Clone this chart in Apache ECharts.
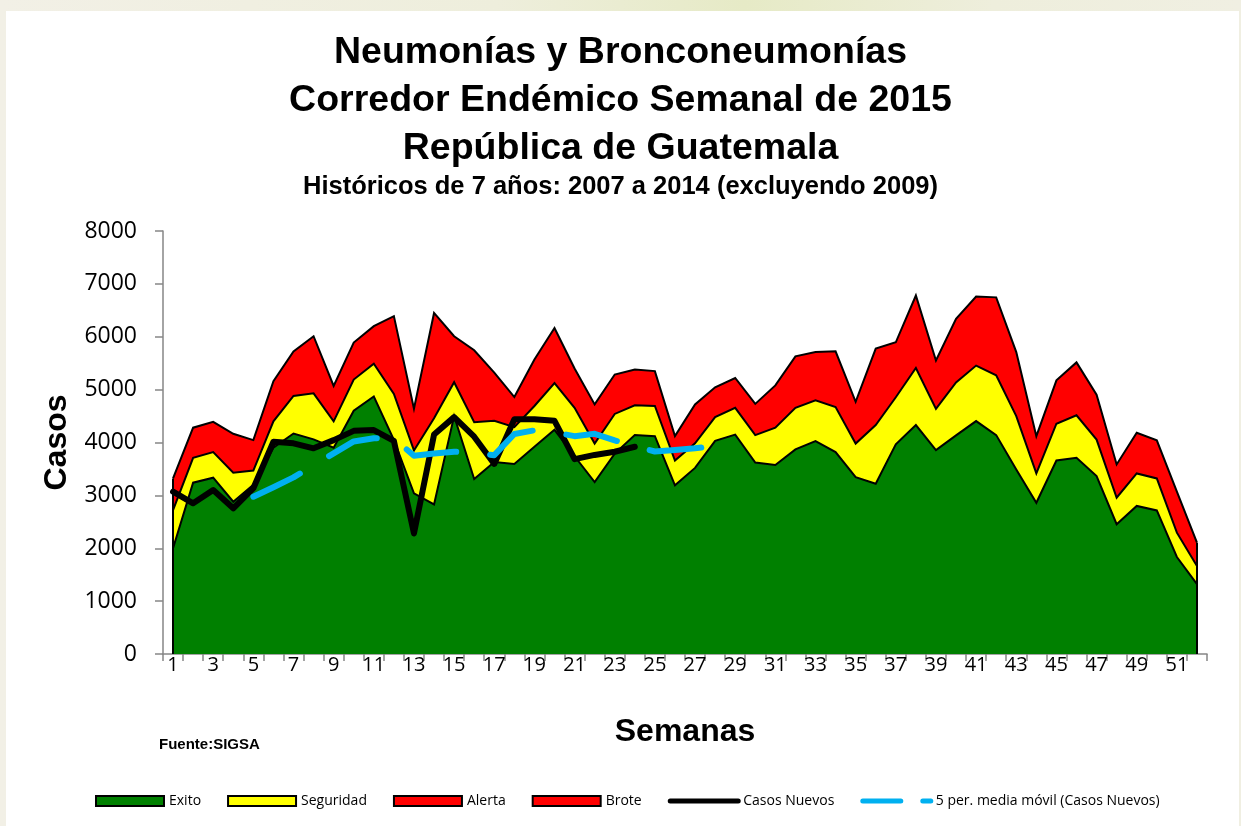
<!DOCTYPE html>
<html>
<head>
<meta charset="utf-8">
<script src="https://cdn.jsdelivr.net/npm/echarts@6/dist/echarts.min.js"></script>
<style>
  html, body { margin: 0; padding: 0; width: 1241px; height: 826px; overflow: hidden;
    background: linear-gradient(90deg, #f2f0e6 0%, #eeeedc 40%, #e6eac6 60%, #eeeedc 80%, #f0efe2 100%); }
  #bg { position: absolute; left: 6px; top: 11px; width: 1233px; height: 815px; background: #fff; }
  #chart { position: absolute; left: 0; top: 0; width: 1241px; height: 826px; }
</style>
</head>
<body>
<div id="bg"></div>
<div id="chart"></div>
<script>
// ---- Data ----
const weeks = ['1','2','3','4','5','6','7','8','9','10','11','12','13','14','15','16','17','18','19','20',
  '21','22','23','24','25','26','27','28','29','30','31','32','33','34','35','36','37','38','39','40',
  '41','42','43','44','45','46','47','48','49','50','51','52'];

// Upper limit of "Exito" zone (green)
const exito = [2000,3240,3335,2880,3200,3900,4170,4060,3900,4600,4870,4050,3040,2830,4500,3310,3630,3595,3920,4240,
  3740,3250,3790,4140,4120,3190,3520,4030,4150,3620,3575,3870,4025,3820,3345,3220,3965,4330,3855,4135,
  4405,4140,3490,2860,3660,3710,3365,2455,2800,2715,1835,1320];

// Upper limit of "Seguridad" zone (yellow)
const seguridad = [2720,3710,3820,3430,3470,4400,4880,4930,4400,5190,5490,4920,3850,4460,5140,4385,4410,4290,4690,5125,
  4655,3980,4540,4705,4690,3660,3985,4480,4655,4140,4280,4655,4800,4670,3980,4330,4855,5410,4635,5135,
  5455,5270,4500,3415,4355,4515,4055,2955,3415,3320,2295,1665];

// Upper limit of "Alerta" zone (red)
const alerta = [3320,4280,4390,4165,4045,5160,5720,6010,5070,5890,6200,6390,4640,6450,6010,5745,5320,4860,5570,6165,
  5400,4720,5285,5380,5350,4120,4720,5045,5220,4730,5080,5630,5710,5725,4770,5775,5895,6780,5550,6340,
  6760,6745,5710,4120,5175,5515,4905,3585,4185,4040,3070,2105];

// "Brote" zone has no visible boundary in the picture
const brote = [];

// Casos Nuevos 2015 (weeks 1-24)
const casosNuevos = [3070,2850,3100,2755,3135,4015,3985,3890,4045,4220,4235,4030,2280,4150,4480,4110,3595,4440,4440,4410,
  3685,3765,3825,3920];

// 5 per. media móvil (weeks 5-28)
const mediaMovil = [null,null,null,null,2975,3155,3340,3570,3795,4020,4080,4075,3750,3790,3825,3805,3760,4160,4230,4190,
  4120,4165,4040,3930,3830,3860,3890,3935];

const yTicks = [0,1000,2000,3000,4000,5000,6000,7000,8000];

// ---- Chart ----
const chart = echarts.init(document.getElementById('chart'), null, { renderer: 'canvas' });
const FONT = 'Open Sans';
const TFONT = 'Liberation Sans';

function areaSeries(name, data, fill) {
  return {
    name: name, type: 'line', data: data, symbol: 'none', silent: true,
    itemStyle: { color: fill },
    lineStyle: { color: '#000', width: 2, join: 'miter' },
    areaStyle: { color: fill, opacity: 1 }
  };
}

const exitoS = areaSeries('Exito', exito, '#008000');
exitoS.markLine = {
  silent: true, symbol: 'none', label: { show: false },
  lineStyle: { color: '#000', width: 2, type: 'solid' },
  data: [
    [{ coord: [weeks[0], 0] }, { coord: [weeks[0], alerta[0]] }],
    [{ coord: [weeks[51], 0] }, { coord: [weeks[51], alerta[51]] }]
  ]
};

function titleItem(text, top, size, left) {
  return {
    text: text, left: left === undefined ? 'center' : left, top: top, padding: 0,
    textStyle: { fontFamily: TFONT, fontSize: size, fontWeight: 'bold', color: '#000', lineHeight: size }
  };
}

chart.setOption({
  animation: false,
  backgroundColor: 'transparent',
  title: [
    titleItem('Neumonías y Bronconeumonías', 34, 37.5),
    titleItem('Corredor Endémico Semanal de 2015', 82, 37.5),
    titleItem('República de Guatemala', 129.5, 37.5),
    titleItem('Históricos de 7 años: 2007 a 2014 (excluyendo 2009)', 174, 25.5),
    titleItem('Fuente:SIGSA', 737, 15, 159)
  ],
  legend: {
    left: 90, top: 789,
    itemWidth: 68, itemHeight: 10, itemGap: 26,
    textStyle: { fontFamily: FONT, fontSize: 14, color: '#000' },
    data: [
      { name: 'Exito', icon: 'rect', itemStyle: { borderColor: '#000', borderWidth: 2 } },
      { name: 'Seguridad', icon: 'rect', itemStyle: { borderColor: '#000', borderWidth: 2 } },
      { name: 'Alerta', icon: 'rect', itemStyle: { borderColor: '#000', borderWidth: 2 } },
      { name: 'Brote', icon: 'rect', itemStyle: { borderColor: '#000', borderWidth: 2 } },
      { name: 'Casos Nuevos', itemStyle: { opacity: 0 }, lineStyle: { width: 5, cap: 'round' } },
      { name: '5 per. media móvil (Casos Nuevos)', itemStyle: { opacity: 0 },
        lineStyle: { width: 5, type: [38, 22], cap: 'round' } }
    ]
  },
  grid: { left: 163, top: 231, width: 1044, height: 423, containLabel: false },
  xAxis: {
    type: 'category', data: weeks, boundaryGap: true,
    name: 'Semanas', nameLocation: 'middle', nameGap: 62,
    nameTextStyle: { fontFamily: TFONT, fontSize: 32, fontWeight: 'bold', color: '#000' },
    axisLine: { lineStyle: { color: '#868686', width: 1.5 } },
    axisTick: { show: true, interval: 0, length: 7, lineStyle: { color: '#868686', width: 1.5 } },
    axisLabel: { interval: 1, fontFamily: FONT, fontSize: 20, color: '#000', margin: 1 },
    splitLine: { show: false }
  },
  yAxis: {
    type: 'value', min: 0, max: 8000, interval: 1000,
    name: 'Casos', nameLocation: 'middle', nameGap: 81, nameRotate: 90,
    nameTextStyle: { fontFamily: TFONT, fontSize: 32, fontWeight: 'bold', color: '#000' },
    axisLine: { show: true, lineStyle: { color: '#868686', width: 1.5 } },
    axisTick: { show: true, length: 8, lineStyle: { color: '#868686', width: 1.5 } },
    axisLabel: { fontFamily: FONT, fontSize: 23, color: '#000', margin: 26,
      formatter: function (v) { return yTicks.indexOf(v) >= 0 ? String(v) : ''; } },
    splitLine: { show: false }
  },
  series: [
    areaSeries('Alerta', alerta, '#ff0000'),
    areaSeries('Brote', brote, '#ff0000'),
    areaSeries('Seguridad', seguridad, '#ffff00'),
    exitoS,
    {
      name: 'Casos Nuevos', type: 'line', data: casosNuevos, symbol: 'none', silent: true,
      itemStyle: { color: '#000' },
      lineStyle: { color: '#000', width: 6, cap: 'round', join: 'round' },
      z: 5
    },
    {
      name: '5 per. media móvil (Casos Nuevos)', type: 'line', data: mediaMovil, symbol: 'none', silent: true,
      itemStyle: { color: '#00b0f0' },
      lineStyle: { color: '#00b0f0', width: 6, type: [52, 34], cap: 'round', join: 'round' },
      z: 6
    }
  ]
});
</script>
</body>
</html>
